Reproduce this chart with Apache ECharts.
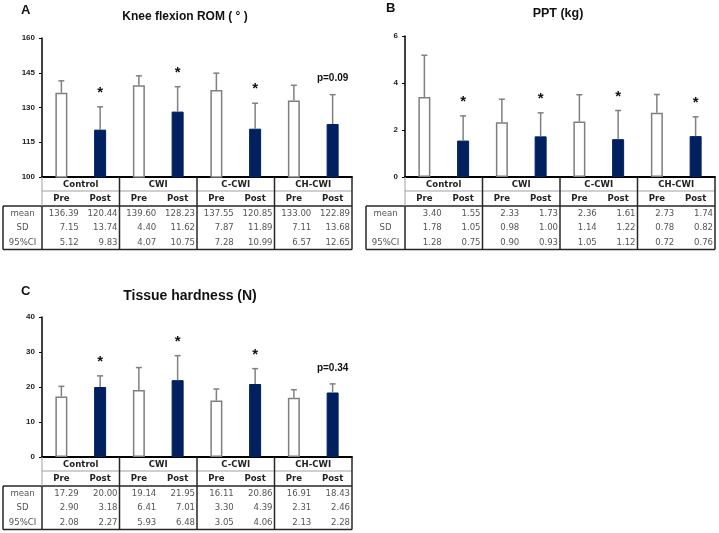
<!DOCTYPE html>
<html>
<head>
<meta charset="utf-8">
<script src="https://cdn.jsdelivr.net/npm/echarts@6/dist/echarts.min.js"></script>
<style>
html, body { margin: 0; padding: 0; background: #fff; }
#main { width: 719px; height: 533px; }
</style>
</head>
<body>
<div id="main"></div>
<script>
// groups, phases and table rows
var groups = ['Control', 'CWI', 'C-CWI', 'CH-CWI'];
var phases = ['Pre', 'Post'];
var rowNames = ['mean', 'SD', '95%CI'];

// A: knee flexion ROM
var romMean = [136.39, 120.44, 139.60, 128.23, 137.55, 120.85, 133.00, 122.89];
var romSD   = [7.15, 13.74, 4.40, 11.62, 7.87, 11.89, 7.11, 13.68];
var romCI   = [5.12, 9.83, 4.07, 10.75, 7.28, 10.99, 6.57, 12.65];
var romMarks = ['', '*', '', '*', '', '*', '', 'p=0.09'];

// B: PPT
var pptMean = [3.40, 1.55, 2.33, 1.73, 2.36, 1.61, 2.73, 1.74];
var pptSD   = [1.78, 1.05, 0.98, 1.00, 1.14, 1.22, 0.78, 0.82];
var pptCI   = [1.28, 0.75, 0.90, 0.93, 1.05, 1.12, 0.72, 0.76];
var pptMarks = ['', '*', '', '*', '', '*', '', '*'];

// C: tissue hardness
var thMean = [17.29, 20.00, 19.14, 21.95, 16.11, 20.86, 16.91, 18.43];
var thSD   = [2.90, 3.18, 6.41, 7.01, 3.30, 4.39, 2.31, 2.46];
var thCI   = [2.08, 2.27, 5.93, 6.48, 3.05, 4.06, 2.13, 2.28];
var thMarks = ['', '*', '', '*', '', '*', '', 'p=0.34'];

var cats = [];
groups.forEach(function (g) {
    phases.forEach(function (p) { cats.push(g + ' ' + p); });
});

var panels = [
    { letter: 'A', title: 'Knee flexion ROM ( ° )', titleSize: 12, mean: romMean, sd: romSD, ci: romCI, err: romCI, marks: romMarks,
      min: 100, max: 160, interval: 15, left: 42, top: 38, width: 310, height: 139, tableLeft: 3,
      letterX: 21, letterY: 10, titleX: 185, titleY: 17 },
    { letter: 'B', title: 'PPT (kg)', titleSize: 12.5, mean: pptMean, sd: pptSD, ci: pptCI, err: pptSD, marks: pptMarks,
      min: 0, max: 6, interval: 2, left: 405, top: 36, width: 310, height: 141, tableLeft: 366,
      letterX: 386, letterY: 8, titleX: 558, titleY: 14 },
    { letter: 'C', title: 'Tissue hardness (N)', titleSize: 14, mean: thMean, sd: thSD, ci: thCI, err: thSD, marks: thMarks,
      min: 0, max: 40, interval: 10, left: 42, top: 317, width: 310, height: 140, tableLeft: 3,
      letterX: 21, letterY: 291, titleX: 190, titleY: 296 }
];

var PRE_BORDER = '#7f7f7f';
var NAVY = '#002060';
var ERR = '#808080';
var DARK = '#262626';
var TFONT = '"DejaVu Sans Condensed", "DejaVu Sans"';

function tableGraphics(p) {
    var els = [];
    var x0 = p.left, x1 = p.left + p.width, y0 = p.top + p.height;
    var gw = p.width / groups.length, cw = gw / phases.length;
    var yHead = y0 + 14, yRows = y0 + 29, rh = 14.5, yBot = yRows + rh * rowNames.length;
    function line(xa, ya, xb, yb, color, w) {
        els.push({ type: 'line', silent: true, z: 10,
            shape: { x1: xa, y1: ya, x2: xb, y2: yb },
            style: { stroke: color, lineWidth: w } });
    }
    function text(x, y, s, align, font, color) {
        els.push({ type: 'text', silent: true, z: 10, x: x, y: y,
            style: { text: s, align: align, verticalAlign: 'middle', font: font, fill: color } });
    }
    line(x0, yHead, x1, yHead, '#a0a0a0', 1);
    line(p.tableLeft, yRows, x1, yRows, DARK, 1.5);
    line(p.tableLeft, yBot, x1, yBot, DARK, 1.5);
    line(p.tableLeft, yRows, p.tableLeft, yBot, DARK, 1.5);
    line(x0, y0, x0, yRows, '#a0a0a0', 1);
    line(x0, yRows, x0, yBot, DARK, 1.5);
    for (var g = 1; g <= groups.length; g++) {
        line(x0 + gw * g, y0, x0 + gw * g, yBot, DARK, 1.5);
    }
    groups.forEach(function (name, g) {
        text(x0 + gw * (g + 0.5), y0 + 7.5, name, 'center', 'bold 9.5px ' + TFONT, '#222');
    });
    cats.forEach(function (c, i) {
        text(x0 + cw * (i + 0.5), y0 + 22, phases[i % phases.length], 'center', 'bold 9.5px ' + TFONT, '#222');
    });
    var rows = [p.mean, p.sd, p.ci];
    rowNames.forEach(function (r, k) {
        var yc = yRows + rh * (k + 0.5);
        text((p.tableLeft + x0) / 2, yc, r, 'center', '9.5px ' + TFONT, '#555');
        rows[k].forEach(function (v, i) {
            text(x0 + cw * (i + 1) - 2, yc, v.toFixed(2), 'right', '9.5px ' + TFONT, '#555');
        });
    });
    text(p.letterX, p.letterY, p.letter, 'left', 'bold 13px "Liberation Sans"', '#111');
    text(p.titleX, p.titleY, p.title, 'center', 'bold ' + p.titleSize + 'px "Liberation Sans"', '#111');
    return els;
}

function errorBarItem(params, api) {
    var x = api.value(0);
    var base = api.coord([x, api.value(1)]);
    var top = api.coord([x, api.value(2)]);
    var cap = 3;
    return {
        type: 'group',
        children: [
            { type: 'line', shape: { x1: base[0], y1: base[1], x2: top[0], y2: top[1] },
              style: { stroke: ERR, lineWidth: 1.5 } },
            { type: 'line', shape: { x1: top[0] - cap, y1: top[1], x2: top[0] + cap, y2: top[1] },
              style: { stroke: ERR, lineWidth: 1.5 } }
        ]
    };
}

function markItem(marks) {
    return function (params, api) {
        var s = marks[params.dataIndex];
        if (!s) return null;
        var pt = api.coord([api.value(0), api.value(1)]);
        var star = s === '*';
        return {
            type: 'text',
            x: pt[0],
            y: pt[1] - (star ? 14 : 16),
            style: {
                text: s, align: 'center', verticalAlign: 'middle', fill: '#111',
                font: star ? 'bold 15px "Liberation Sans"' : 'bold 10px "Liberation Sans"'
            }
        };
    };
}

var option = { animation: false, grid: [], xAxis: [], yAxis: [], series: [], graphic: [] };

panels.forEach(function (p, k) {
    option.grid.push({ left: p.left, top: p.top, width: p.width, height: p.height,
        containLabel: false, outerBoundsMode: 'none' });
    option.xAxis.push({ type: 'category', gridIndex: k, data: cats,
        axisLine: { lineStyle: { color: '#000', width: 2 } },
        axisTick: { show: false }, axisLabel: { show: false } });
    option.yAxis.push({ type: 'value', gridIndex: k, min: p.min, max: p.max, interval: p.interval,
        axisLine: { show: true, lineStyle: { color: '#000', width: 1.5 } },
        axisTick: { show: true, length: 3, lineStyle: { color: '#000' } },
        axisLabel: { fontFamily: 'Liberation Sans', fontWeight: 'bold', fontSize: 8, color: '#222', margin: 7 },
        splitLine: { show: false } });
    option.series.push({
        type: 'bar', xAxisIndex: k, yAxisIndex: k, barWidth: 12, z: 2,
        data: p.mean.map(function (v, i) {
            var pre = i % 2 === 0;
            return { value: v, itemStyle: {
                color: pre ? '#fff' : NAVY,
                borderColor: pre ? PRE_BORDER : NAVY,
                borderWidth: pre ? 1.5 : 1 } };
        })
    });
    option.series.push({
        type: 'custom', xAxisIndex: k, yAxisIndex: k, z: 3,
        renderItem: errorBarItem,
        data: p.mean.map(function (v, i) { return [i, v, v + p.err[i]]; })
    });
    option.series.push({
        type: 'custom', xAxisIndex: k, yAxisIndex: k, z: 4,
        renderItem: markItem(p.marks),
        data: p.mean.map(function (v, i) { return [i, v + p.err[i]]; })
    });
    option.graphic = option.graphic.concat(tableGraphics(p));
});

var chart = echarts.init(document.getElementById('main'));
chart.setOption(option);
</script>
</body>
</html>
